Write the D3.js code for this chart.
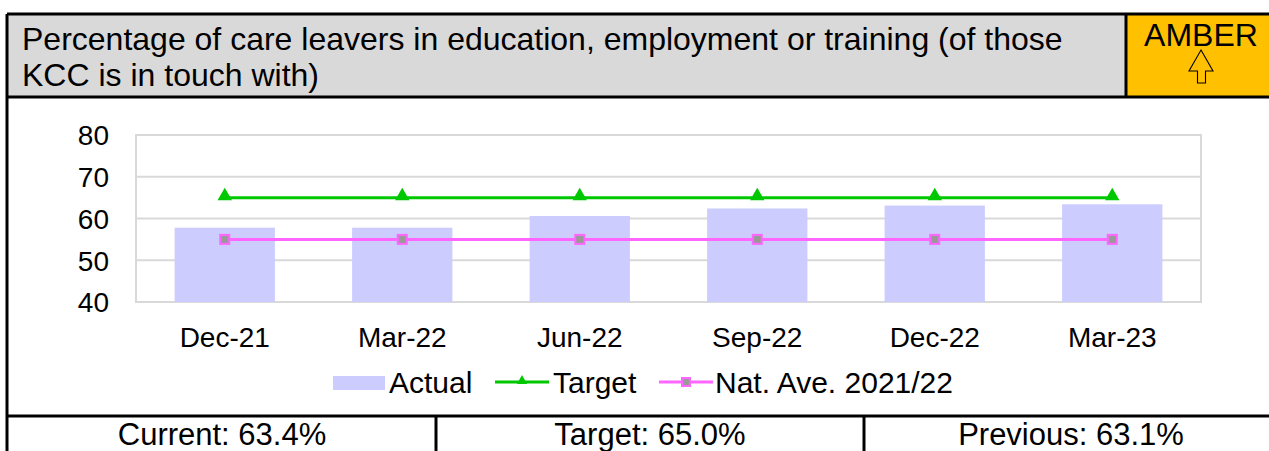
<!DOCTYPE html>
<html>
<head>
<meta charset="utf-8">
<script src="https://cdn.jsdelivr.net/npm/d3@7"></script>
<style>
  html, body { margin: 0; padding: 0; background: #fff; }
  svg { display: block; font-family: "Liberation Sans", Arial, sans-serif; }
</style>
</head>
<body>
<svg id="chart" width="1269" height="451"></svg>
<script>
// Care leavers in education, employment or training (%)
const categories = ["Dec-21", "Mar-22", "Jun-22", "Sep-22", "Dec-22", "Mar-23"];
const actual = [57.8, 57.8, 60.6, 62.4, 63.1, 63.4];
const target = [65, 65, 65, 65, 65, 65];
const natAve = [55, 55, 55, 55, 55, 55];
const yTicks = [40, 50, 60, 70, 80];
const titleLines = [
  "Percentage of care leavers in education, employment or training (of those",
  "KCC is in touch with)"
];
const ragStatus = "AMBER";
const summary = ["Current: 63.4%", "Target: 65.0%", "Previous: 63.1%"];
const legendNames = ["Actual", "Target", "Nat. Ave. 2021/22"];

const svg = d3.select("#chart");
const W = 1269, H = 451;
const FONT = "'Liberation Sans', Arial, sans-serif";

// ---- header panel ----
const frameL = 7, frameT = 14, headB = 97, ambL = 1126, tableT = 416;
svg.append("rect").attr("x", frameL).attr("y", frameT)
  .attr("width", ambL - frameL).attr("height", headB - frameT).attr("fill", "#d9d9d9");
svg.append("rect").attr("x", ambL).attr("y", frameT)
  .attr("width", W - ambL + 5).attr("height", headB - frameT).attr("fill", "#ffc000");

const title = svg.append("text").attr("font-size", 32).attr("fill", "#000");
titleLines.forEach((t, i) => {
  title.append("tspan").attr("x", 22).attr("y", 50 + i * 36).text(t);
});

svg.append("text").attr("x", 1201).attr("y", 46).attr("text-anchor", "middle")
  .attr("font-size", 32).attr("fill", "#000").text(ragStatus);

// hollow up-arrow under the status
const arrow = d3.path();
arrow.moveTo(1201, 50);
arrow.lineTo(1213, 71);
arrow.lineTo(1205.5, 71);
arrow.lineTo(1205.5, 83);
arrow.lineTo(1197.5, 83);
arrow.lineTo(1197.5, 71);
arrow.lineTo(1189, 71);
arrow.closePath();
svg.append("path").attr("d", arrow.toString())
  .attr("fill", "none").attr("stroke", "#000").attr("stroke-width", 1.1);

// ---- chart ----
const plot = { left: 136, right: 1201, top: 135, bottom: 302 };

const x = d3.scaleBand().domain(categories)
  .range([plot.left, plot.right]).paddingInner(0.435).paddingOuter(0.2175);
const y = d3.scaleLinear().domain([40, 80]).range([plot.bottom, plot.top]);
const cx = c => x(c) + x.bandwidth() / 2;

// gridlines and plot frame
svg.append("g").selectAll("line").data(yTicks).join("line")
  .attr("x1", plot.left).attr("x2", plot.right)
  .attr("y1", d => y(d)).attr("y2", d => y(d))
  .attr("stroke", "#d9d9d9").attr("stroke-width", 2);
svg.append("rect").attr("x", plot.left).attr("y", plot.top)
  .attr("width", plot.right - plot.left).attr("height", plot.bottom - plot.top)
  .attr("fill", "none").attr("stroke", "#d9d9d9").attr("stroke-width", 2);

// y axis labels
const yAxis = d3.axisLeft(y).tickValues(yTicks).tickSize(0).tickPadding(27);
svg.append("g").attr("transform", `translate(${plot.left},0)`).call(yAxis)
  .call(g => g.select(".domain").remove())
  .call(g => g.selectAll("text").attr("font-size", 28).attr("fill", "#000")
    .attr("font-family", FONT).attr("dy", "0.35em"));

// x axis labels
const xAxis = d3.axisBottom(x).tickSize(0).tickPadding(25);
svg.append("g").attr("transform", `translate(0,${plot.bottom})`).call(xAxis)
  .call(g => g.select(".domain").remove())
  .call(g => g.selectAll("text").attr("font-size", 28).attr("fill", "#000")
    .attr("font-family", FONT));

// bars
svg.append("g").selectAll("rect").data(actual).join("rect")
  .attr("x", (d, i) => x(categories[i]))
  .attr("width", x.bandwidth())
  .attr("y", d => y(d))
  .attr("height", d => y(40) - y(d))
  .attr("fill", "#ccccff");

const line = d3.line().x((d, i) => cx(categories[i])).y(d => y(d));

// national average line with square markers
svg.append("path").datum(natAve).attr("d", line)
  .attr("fill", "none").attr("stroke", "#ff66ff").attr("stroke-width", 3);
svg.append("g").selectAll("rect").data(natAve).join("rect")
  .attr("x", (d, i) => cx(categories[i]) - 4.5).attr("y", d => y(d) - 4.5)
  .attr("width", 9).attr("height", 9)
  .attr("fill", "#999999").attr("stroke", "#ff66ff").attr("stroke-width", 2);

// target line with triangle markers
svg.append("path").datum(target).attr("d", line)
  .attr("fill", "none").attr("stroke", "#00c800").attr("stroke-width", 3);
const tri = d3.symbol().type(d3.symbolTriangle).size(90);
svg.append("g").selectAll("path").data(target).join("path")
  .attr("transform", (d, i) => `translate(${cx(categories[i])},${y(d) - 1.5})`)
  .attr("d", tri).attr("fill", "#00c800");

// ---- legend ----
const lg = svg.append("g").attr("font-size", 30).attr("fill", "#000");
const legY = 382;
lg.append("rect").attr("x", 333).attr("y", legY - 6).attr("width", 52).attr("height", 14)
  .attr("fill", "#ccccff");
lg.append("text").attr("x", 389).attr("y", legY).attr("dy", "0.35em").text(legendNames[0]);

lg.append("line").attr("x1", 495).attr("x2", 549).attr("y1", legY).attr("y2", legY)
  .attr("stroke", "#00c800").attr("stroke-width", 3);
lg.append("path").attr("transform", `translate(522,${legY - 1})`)
  .attr("d", d3.symbol().type(d3.symbolTriangle).size(45)).attr("fill", "#00c800");
lg.append("text").attr("x", 553).attr("y", legY).attr("dy", "0.35em").text(legendNames[1]);

lg.append("line").attr("x1", 659).attr("x2", 713).attr("y1", legY).attr("y2", legY)
  .attr("stroke", "#ff66ff").attr("stroke-width", 3);
lg.append("rect").attr("x", 682).attr("y", legY - 4).attr("width", 8).attr("height", 8)
  .attr("fill", "#999999").attr("stroke", "#ff66ff").attr("stroke-width", 2);
lg.append("text").attr("x", 715).attr("y", legY).attr("dy", "0.35em").text(legendNames[2]);

// ---- summary row ----
const cellCenters = [222, 650, 1071];
summary.forEach((s, i) => {
  svg.append("text")
    .attr("x", cellCenters[i]).attr("y", 445).attr("text-anchor", "middle")
    .attr("font-size", 31).attr("fill", "#000").text(s);
});

// ---- frame lines ----
const frame = svg.append("g").attr("stroke", "#000").attr("stroke-width", 3).attr("fill", "none");
frame.append("line").attr("x1", frameL).attr("x2", W + 5).attr("y1", frameT).attr("y2", frameT);
frame.append("line").attr("x1", frameL).attr("x2", frameL).attr("y1", frameT).attr("y2", H + 5);
frame.append("line").attr("x1", frameL).attr("x2", W + 5).attr("y1", headB).attr("y2", headB);
frame.append("line").attr("x1", ambL).attr("x2", ambL).attr("y1", frameT).attr("y2", headB);
frame.append("line").attr("x1", frameL).attr("x2", W + 5).attr("y1", tableT).attr("y2", tableT);
frame.append("line").attr("x1", 436).attr("x2", 436).attr("y1", tableT).attr("y2", H + 5);
frame.append("line").attr("x1", 864).attr("x2", 864).attr("y1", tableT).attr("y2", H + 5);
</script>
</body>
</html>
